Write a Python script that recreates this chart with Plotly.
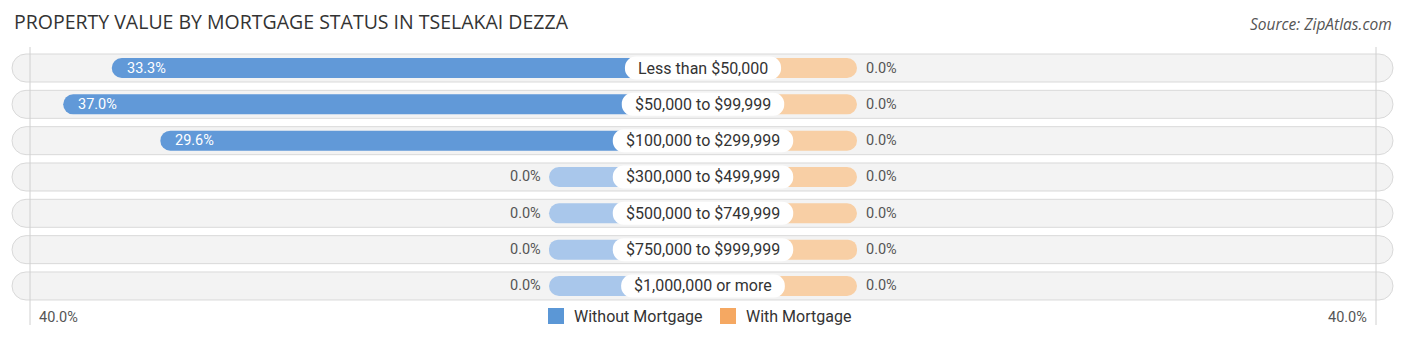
import plotly.graph_objects as go

# ---- data ----
categories = ["Less than $50,000", "$50,000 to $99,999", "$100,000 to $299,999",
              "$300,000 to $499,999", "$500,000 to $749,999", "$750,000 to $999,999",
              "$1,000,000 or more"]
without_mortgage = [33.3, 37.0, 29.6, 0.0, 0.0, 0.0, 0.0]
with_mortgage = [0.0, 0.0, 0.0, 0.0, 0.0, 0.0, 0.0]
axis_max_label = "40.0%"
title = "PROPERTY VALUE BY MORTGAGE STATUS IN TSELAKAI DEZZA"
source = "Source: ZipAtlas.com"
series_names = ["Without Mortgage", "With Mortgage"]

# ---- layout constants (pixels) ----
W, H = 1406, 341
CX = 703.0          # center x in px
PPU = 13.13         # px per percent unit
OFF = 154 / PPU     # label area offset (units)
ROW0 = 68.0         # first row center (px)
ROWH = 36.33        # row spacing (px)

def ux(px):
    return (px - CX) / PPU

def hy(px):
    return px / ROWH

BLUE = "#6199d8"
BLUE_LIGHT = "#a9c7eb"
ORANGE = "#f5a862"
ORANGE_LIGHT = "#f8cfa5"

# Roboto approximate advance widths (em)
CW = {"0": .562, "1": .562, "2": .562, "3": .562, "4": .562, "5": .562, "6": .562,
      "7": .562, "8": .562, "9": .562, "$": .562, ",": .196, " ": .248, ".": .263,
      "t": .327, "o": .57, "L": .538, "e": .53, "s": .515, "h": .551, "a": .543,
      "n": .552, "r": .338, "m": .876}

def text_w(s, size):
    return sum(CW.get(c, .55) for c in s) * size

n = len(categories)
idx = list(range(n))

fig = go.Figure()

# row backgrounds
fig.add_trace(go.Bar(
    y=idx, x=[ux(1393) - ux(12)] * n, base=[ux(12)] * n, orientation="h",
    width=hy(28), marker=dict(color="#f3f3f3", line=dict(color="#d9d9d9", width=1),
                              cornerradius=14),
    hoverinfo="skip", showlegend=False))

# left bars (without mortgage)
fig.add_trace(go.Bar(
    y=idx, x=[-(v + OFF) for v in without_mortgage], base=[0] * n, orientation="h",
    width=hy(20), marker=dict(color=[BLUE if v > 0 else BLUE_LIGHT for v in without_mortgage],
                              line=dict(width=0), cornerradius=10),
    name=series_names[0], showlegend=False))

# right bars (with mortgage)
fig.add_trace(go.Bar(
    y=idx, x=[(v + OFF) for v in with_mortgage], base=[0] * n, orientation="h",
    width=hy(20), marker=dict(color=[ORANGE if v > 0 else ORANGE_LIGHT for v in with_mortgage],
                              line=dict(width=0), cornerradius=10),
    name=series_names[1], showlegend=False))

# label boxes
box_w = [(text_w(c, 16) + 26) / PPU for c in categories]
fig.add_trace(go.Bar(
    y=idx, x=box_w, base=[-w / 2 for w in box_w], orientation="h",
    width=hy(23), marker=dict(color="white", line=dict(width=0), cornerradius=11),
    hoverinfo="skip", showlegend=False))

annotations = []
for i, c in enumerate(categories):
    annotations.append(dict(x=0, y=i, text=c, showarrow=False, xanchor="center",
                            yanchor="middle", font=dict(family="Roboto", size=16, color="#333333")))
    v = without_mortgage[i]
    if v > 0:
        annotations.append(dict(x=-(v + OFF) + 13 / PPU, y=i, text=f"{v:.1f}%", showarrow=False,
                                xanchor="left", yanchor="middle",
                                font=dict(family="Roboto", size=14.5, color="white")))
    else:
        annotations.append(dict(x=-(v + OFF) - 6 / PPU, y=i, text=f"{v:.1f}%", showarrow=False,
                                xanchor="right", yanchor="middle",
                                font=dict(family="Roboto", size=14.5, color="#555555")))
    v2 = with_mortgage[i]
    if v2 > 0:
        annotations.append(dict(x=(v2 + OFF) - 13 / PPU, y=i, text=f"{v2:.1f}%", showarrow=False,
                                xanchor="right", yanchor="middle",
                                font=dict(family="Roboto", size=14.5, color="white")))
    else:
        annotations.append(dict(x=(v2 + OFF) + 7 / PPU, y=i, text=f"{v2:.1f}%", showarrow=False,
                                xanchor="left", yanchor="middle",
                                font=dict(family="Roboto", size=14.5, color="#555555")))

def py(px):
    return 1 - px / H

# axis end labels
annotations.append(dict(xref="paper", yref="paper", x=37 / W, y=py(317), text=axis_max_label,
                        showarrow=False, xanchor="left", yanchor="middle",
                        font=dict(family="Roboto", size=14.5, color="#555555")))
annotations.append(dict(xref="paper", yref="paper", x=1369 / W, y=py(317), text=axis_max_label,
                        showarrow=False, xanchor="right", yanchor="middle",
                        font=dict(family="Roboto", size=14.5, color="#555555")))
# title & source
annotations.append(dict(xref="paper", yref="paper", x=12 / W, y=py(22), text=title,
                        showarrow=False, xanchor="left", yanchor="middle",
                        font=dict(family="Open Sans", size=19.5, color="#333333")))
annotations.append(dict(xref="paper", yref="paper", x=1394 / W, y=py(24), text=f"<i>{source}</i>",
                        showarrow=False, xanchor="right", yanchor="middle",
                        font=dict(family="Open Sans", size=15.5, color="#555555")))
# legend
annotations.append(dict(xref="paper", yref="paper", x=572 / W, y=py(316), text=series_names[0],
                        showarrow=False, xanchor="left", yanchor="middle",
                        font=dict(family="Roboto", size=16, color="#333333")))
annotations.append(dict(xref="paper", yref="paper", x=744 / W, y=py(316), text=series_names[1],
                        showarrow=False, xanchor="left", yanchor="middle",
                        font=dict(family="Roboto", size=16, color="#333333")))

shapes = [
    dict(type="rect", xref="paper", yref="paper", x0=548 / W, x1=564 / W, y0=py(324), y1=py(308),
         fillcolor="#5b97d6", line=dict(width=0)),
    dict(type="rect", xref="paper", yref="paper", x0=720 / W, x1=736 / W, y0=py(324), y1=py(308),
         fillcolor=ORANGE, line=dict(width=0)),
]
for gx in (ux(30), ux(1376)):
    shapes.append(dict(type="line", xref="x", yref="paper", x0=gx, x1=gx, y0=py(325), y1=py(47),
                       line=dict(color="#d0d0d0", width=1), layer="above"))

top_u = -ROW0 / ROWH
bot_u = (H - ROW0) / ROWH

fig.update_layout(
    width=W, height=H, margin=dict(l=0, r=0, t=0, b=0),
    paper_bgcolor="white", plot_bgcolor="white",
    barmode="overlay",
    xaxis=dict(range=[ux(0), ux(W)], visible=False, fixedrange=True),
    yaxis=dict(range=[bot_u, top_u], visible=False, fixedrange=True),
    annotations=annotations, shapes=shapes, showlegend=False,
)

fig.write_html("out.html")
